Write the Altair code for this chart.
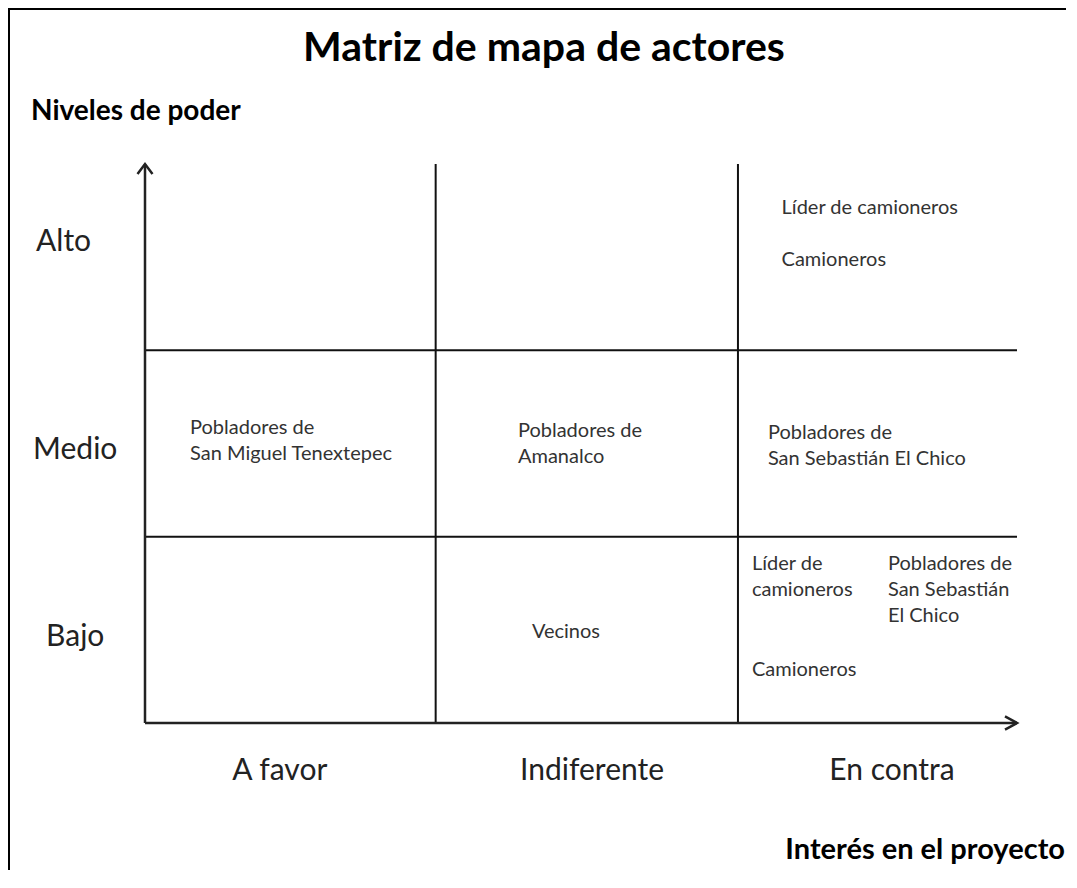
import altair as alt
import pandas as pd

# ---------------- data ----------------
power_levels = ["Bajo", "Medio", "Alto"]
interest_levels = ["A favor", "Indiferente", "En contra"]

# matrix boundaries in matrix units (x: interest, y: power)
col_dividers = [1.0, 2.04]
row_dividers = [1.0, 2.0]
axis_max = 3.0

actor_names = [
    "Líder de camioneros",
    "Camioneros",
    "Pobladores de\nSan Miguel Tenextepec",
    "Pobladores de\nAmanalco",
    "Pobladores de\nSan Sebastián El Chico",
    "Líder de\ncamioneros",
    "Pobladores de\nSan Sebastián\nEl Chico",
    "Camioneros",
    "Vecinos",
]
actor_x = [2.19, 2.19, 0.155, 1.283, 2.143, 2.088, 2.556, 2.088, 1.331]
actor_y = [2.73, 2.45, 1.55, 1.535, 1.524, 0.821, 0.821, 0.252, 0.456]

row_label_x = [-0.24, -0.24, -0.28]
row_label_y = [0.46, 1.465, 2.58]
col_label_x = [0.464, 1.538, 2.570]
col_label_y = [-0.258, -0.258, -0.258]

chart_title = "Matriz de mapa de actores"
y_title = "Niveles de poder"
x_title = "Interés en el proyecto"

FONT = "Lato"
W, H = 872, 559

xs = alt.Scale(domain=[0, axis_max], nice=False, zero=False)
ys = alt.Scale(domain=[0, axis_max], nice=False, zero=False)


def X(f="x"):
    return alt.X(f"{f}:Q", scale=xs, axis=None)


def Y(f="y"):
    return alt.Y(f"{f}:Q", scale=ys, axis=None)


# divider lines
vdiv = pd.DataFrame({"x": col_dividers, "y": [0.0] * 2, "y2": [axis_max] * 2})
hdiv = pd.DataFrame({"y": row_dividers, "x": [0.0] * 2, "x2": [axis_max] * 2})

v_rules = alt.Chart(vdiv).mark_rule(color="#111", strokeWidth=2).encode(
    x=X(), y=Y(), y2="y2:Q"
)
h_rules = alt.Chart(hdiv).mark_rule(color="#111", strokeWidth=2).encode(
    y=Y(), x=X(), x2="x2:Q"
)

# axes with arrows
yaxis_df = pd.DataFrame({"x": [0.0], "y": [0.0], "y2": [axis_max]})
xaxis_df = pd.DataFrame({"y": [0.0], "x": [0.0], "x2": [axis_max]})
y_axis = alt.Chart(yaxis_df).mark_rule(color="#222", strokeWidth=2.5).encode(
    x=X(), y=Y(), y2="y2:Q"
)
x_axis = alt.Chart(xaxis_df).mark_rule(color="#222", strokeWidth=2.5).encode(
    y=Y(), x=X(), x2="x2:Q"
)
up_tip = alt.Chart(pd.DataFrame({"x": [0.0], "y": [axis_max]})).mark_point(
    shape="M-0.75,1L0,0L0.75,1", filled=False, stroke="#222", strokeWidth=2.5,
    size=400, opacity=1
).encode(x=X(), y=Y())
right_tip = alt.Chart(pd.DataFrame({"x": [axis_max], "y": [0.0]})).mark_point(
    shape="M-1,-0.55L0,0L-1,0.55", filled=False, stroke="#222", strokeWidth=2.5,
    size=576, opacity=1
).encode(x=X(), y=Y())

# actor texts
actors_df = pd.DataFrame({"name": actor_names, "x": actor_x, "y": actor_y})
actors = alt.Chart(actors_df).mark_text(
    font=FONT, fontSize=20, color="#333", align="left", baseline="alphabetic",
    lineBreak="\n", lineHeight=26
).encode(x=X(), y=Y(), text="name:N")

# row / column labels
rows_df = pd.DataFrame({"label": power_levels, "x": row_label_x, "y": row_label_y})
row_labels = alt.Chart(rows_df).mark_text(
    font=FONT, fontSize=30, color="#222", align="center", baseline="middle"
).encode(x=X(), y=Y(), text="label:N")

cols_df = pd.DataFrame({"label": interest_levels, "x": col_label_x, "y": col_label_y})
col_labels = alt.Chart(cols_df).mark_text(
    font=FONT, fontSize=30, color="#222", align="center", baseline="middle"
).encode(x=X(), y=Y(), text="label:N")

one = pd.DataFrame({"t": [chart_title], "yt": [y_title], "xt": [x_title]})
title = alt.Chart(one).mark_text(
    font=FONT, fontSize=41, fontWeight="bold", color="#000", align="center",
    baseline="middle"
).encode(x=alt.value(399), y=alt.value(-115), text="t:N")
ytitle = alt.Chart(one).mark_text(
    font=FONT, fontSize=28, fontWeight="bold", color="#000", align="left",
    baseline="middle"
).encode(x=alt.value(-114), y=alt.value(-52), text="yt:N")
xtitle = alt.Chart(one).mark_text(
    font=FONT, fontSize=29, fontWeight="bold", color="#000", align="right",
    baseline="middle"
).encode(x=alt.value(920), y=alt.value(686), text="xt:N")

# outer frame (left and top edges)
frame_left = alt.Chart(one).mark_rule(color="#000", strokeWidth=2).encode(
    x=alt.value(-136), y=alt.value(-156), y2=alt.value(706)
)
frame_top = alt.Chart(one).mark_rule(color="#000", strokeWidth=2).encode(
    y=alt.value(-155), x=alt.value(-137), x2=alt.value(921)
)

chart = alt.layer(
    frame_left, frame_top,
    v_rules, h_rules, y_axis, x_axis, up_tip, right_tip,
    actors, row_labels, col_labels, title, ytitle, xtitle,
).properties(
    width=W, height=H,
    padding={"left": 137, "top": 156, "right": 49, "bottom": 147},
    autosize=alt.AutoSizeParams(type="none"),
    background="white",
).configure_view(stroke=None)

chart.save("out.html", embed_options={"renderer": "svg", "actions": False})
